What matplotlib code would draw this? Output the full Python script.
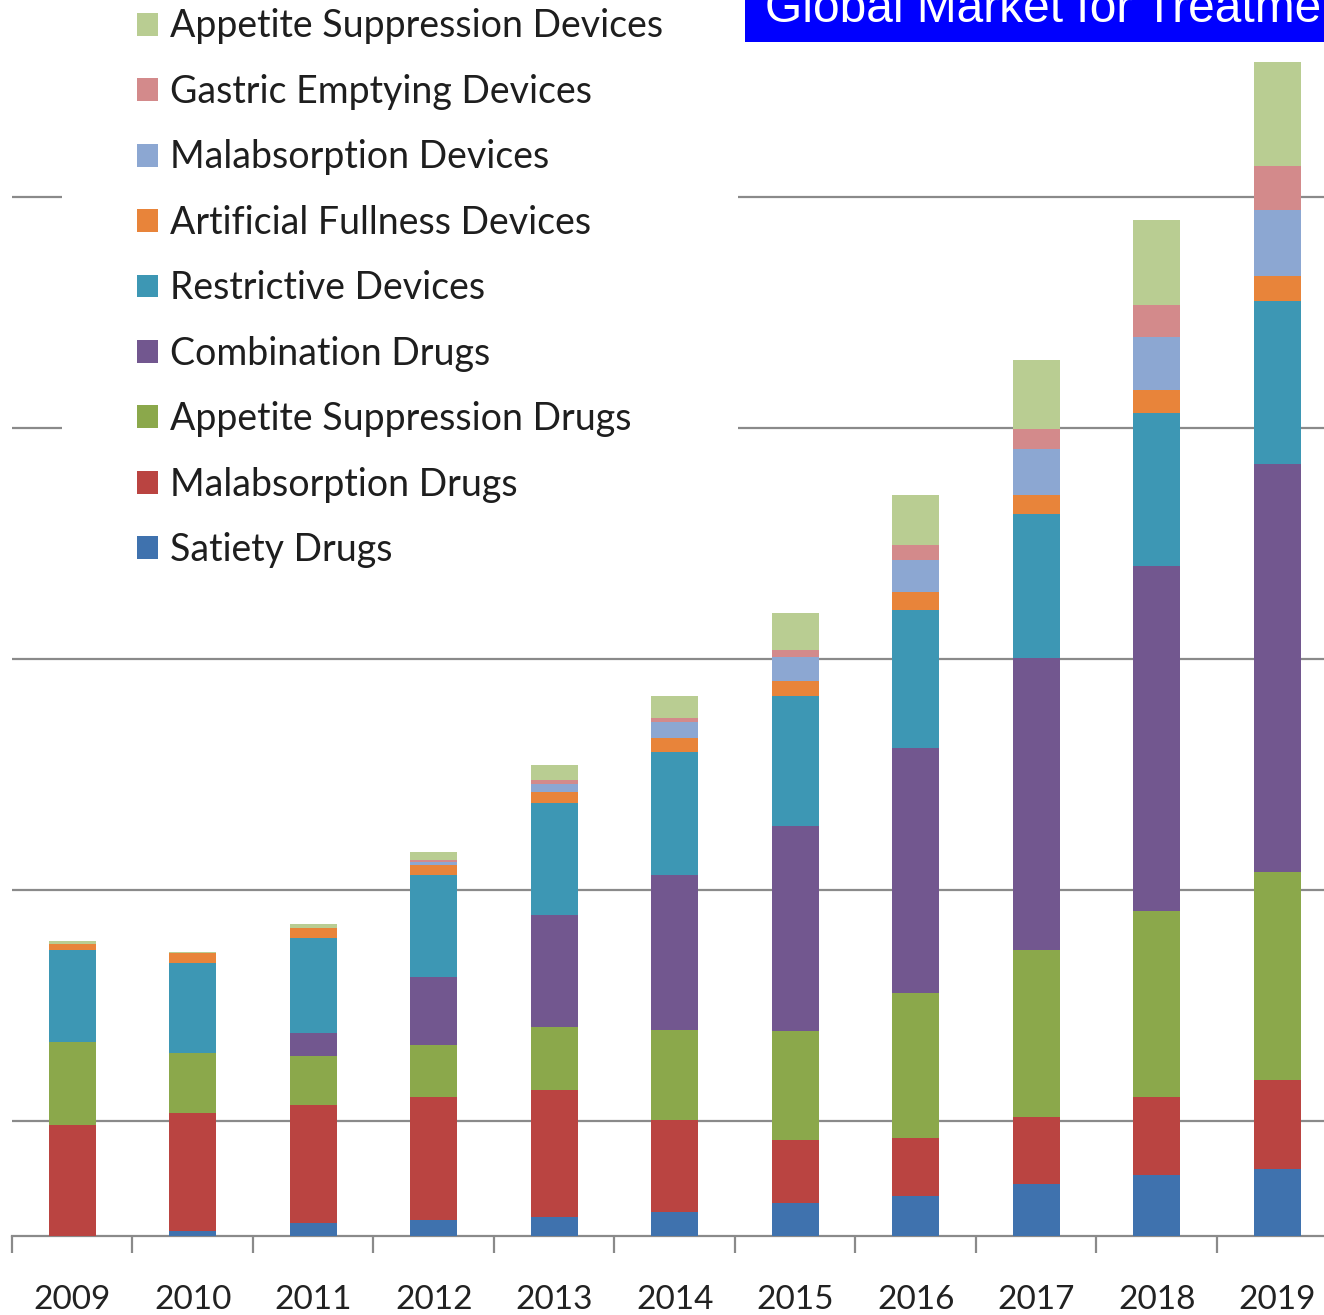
import numpy as np
import matplotlib
matplotlib.use("Agg")
import matplotlib.pyplot as plt
from matplotlib.patches import Rectangle

# market segments, stacked bottom -> top
years = ['2009', '2010', '2011', '2012', '2013', '2014', '2015', '2016', '2017', '2018', '2019']

satiety_drugs = [0, 22, 56, 69, 82, 104, 143, 173, 227, 262, 292]
malabsorption_drugs = [481, 511, 511, 533, 550, 398, 273, 251, 290, 338, 385]
appetite_drugs = [359, 260, 212, 225, 273, 390, 472, 628, 721, 808, 899]
combination_drugs = [0, 0, 100, 294, 485, 671, 888, 1059, 1264, 1494, 1767]
restrictive_devices = [398, 390, 411, 442, 485, 533, 563, 600, 624, 662, 706]
fullness_devices = [26, 43, 43, 43, 48, 61, 65, 78, 82, 100, 108]
malabsorption_devices = [0, 0, 0, 13, 35, 69, 104, 139, 199, 229, 286]
gastric_devices = [0, 0, 0, 9, 17, 17, 30, 63, 87, 139, 191]
appetite_devices = [13, 4, 17, 35, 65, 95, 160, 219, 299, 365, 450]

series = [
    ('Satiety Drugs', satiety_drugs, '#3F72AE'),
    ('Malabsorption Drugs', malabsorption_drugs, '#BA4441'),
    ('Appetite Suppression Drugs', appetite_drugs, '#8BA84B'),
    ('Combination Drugs', combination_drugs, '#72578F'),
    ('Restrictive Devices', restrictive_devices, '#3D97B4'),
    ('Artificial Fullness Devices', fullness_devices, '#E8843A'),
    ('Malabsorption Devices', malabsorption_devices, '#8CA7D2'),
    ('Gastric Emptying Devices', gastric_devices, '#D38A8B'),
    ('Appetite Suppression Devices', appetite_devices, '#B9CD92'),
]

W, H = 1324, 1315
fig = plt.figure(figsize=(W / 100, H / 100), dpi=100)
ax = fig.add_axes([12 / W, 79 / H, 1 - 12 / W, 1236 / H])

x = np.arange(len(years))
bottom = np.zeros(len(years))
handles = []
for name, vals, col in series:
    vals = np.array(vals, dtype=float)
    b = ax.bar(x, vals, width=0.39, bottom=bottom, color=col, linewidth=0, label=name, zorder=3)
    handles.append(b)
    bottom += vals

# gridlines
ax.set_yticks([500, 1500, 2500, 3500, 4500])
ax.yaxis.grid(True, color='#8a8a8a', linewidth=1.6, zorder=0)
ax.set_axisbelow(True)
ax.tick_params(axis='y', length=0, labelleft=False)

# category boundaries get the tick marks, labels sit in the middle
ax.set_xticks(np.arange(-0.5, len(years), 1.0))
ax.set_xticklabels([])
ax.set_xticks(x, minor=True)
ax.set_xticklabels(years, minor=True, fontsize=24, family='Lato', color='#222222')
ax.tick_params(axis='x', which='major', length=12, width=1.6, color='#8a8a8a', direction='out')
ax.tick_params(axis='x', which='minor', length=0, pad=35)

# limits last, set_xticks would widen them
ax.set_xlim(-0.5, 10.388)
ax.set_ylim(0, 5351)

for s in ['left', 'top', 'right']:
    ax.spines[s].set_visible(False)
ax.spines['bottom'].set_color('#8a8a8a')
ax.spines['bottom'].set_linewidth(1.6)

leg = fig.legend(handles[::-1], [s[0] for s in series[::-1]],
                 loc='lower left', bbox_to_anchor=(62 / W, 1 - 643 / H),
                 prop={'family': 'Lato', 'size': 27},
                 handlelength=0.56, handleheight=0.56, handletextpad=0.32,
                 labelspacing=0.785, borderpad=2.0, borderaxespad=0,
                 frameon=True, fancybox=False, framealpha=1)
leg.get_frame().set_facecolor('white')
leg.get_frame().set_edgecolor('none')
for t in leg.get_texts():
    t.set_color('#1e1e1e')

# title banner
fig.patches.append(Rectangle((745 / W, 1 - 42 / H), 1 - 745 / W, 42 / H,
                             transform=fig.transFigure, facecolor='#0000FF',
                             edgecolor='none', zorder=5))
fig.text(765 / W, 1 - 22 / H, 'Global Market for Treatment', color='white',
         fontsize=34.5, family='Liberation Sans', va='baseline', ha='left', zorder=6)

fig.savefig('out.png', dpi=100)
